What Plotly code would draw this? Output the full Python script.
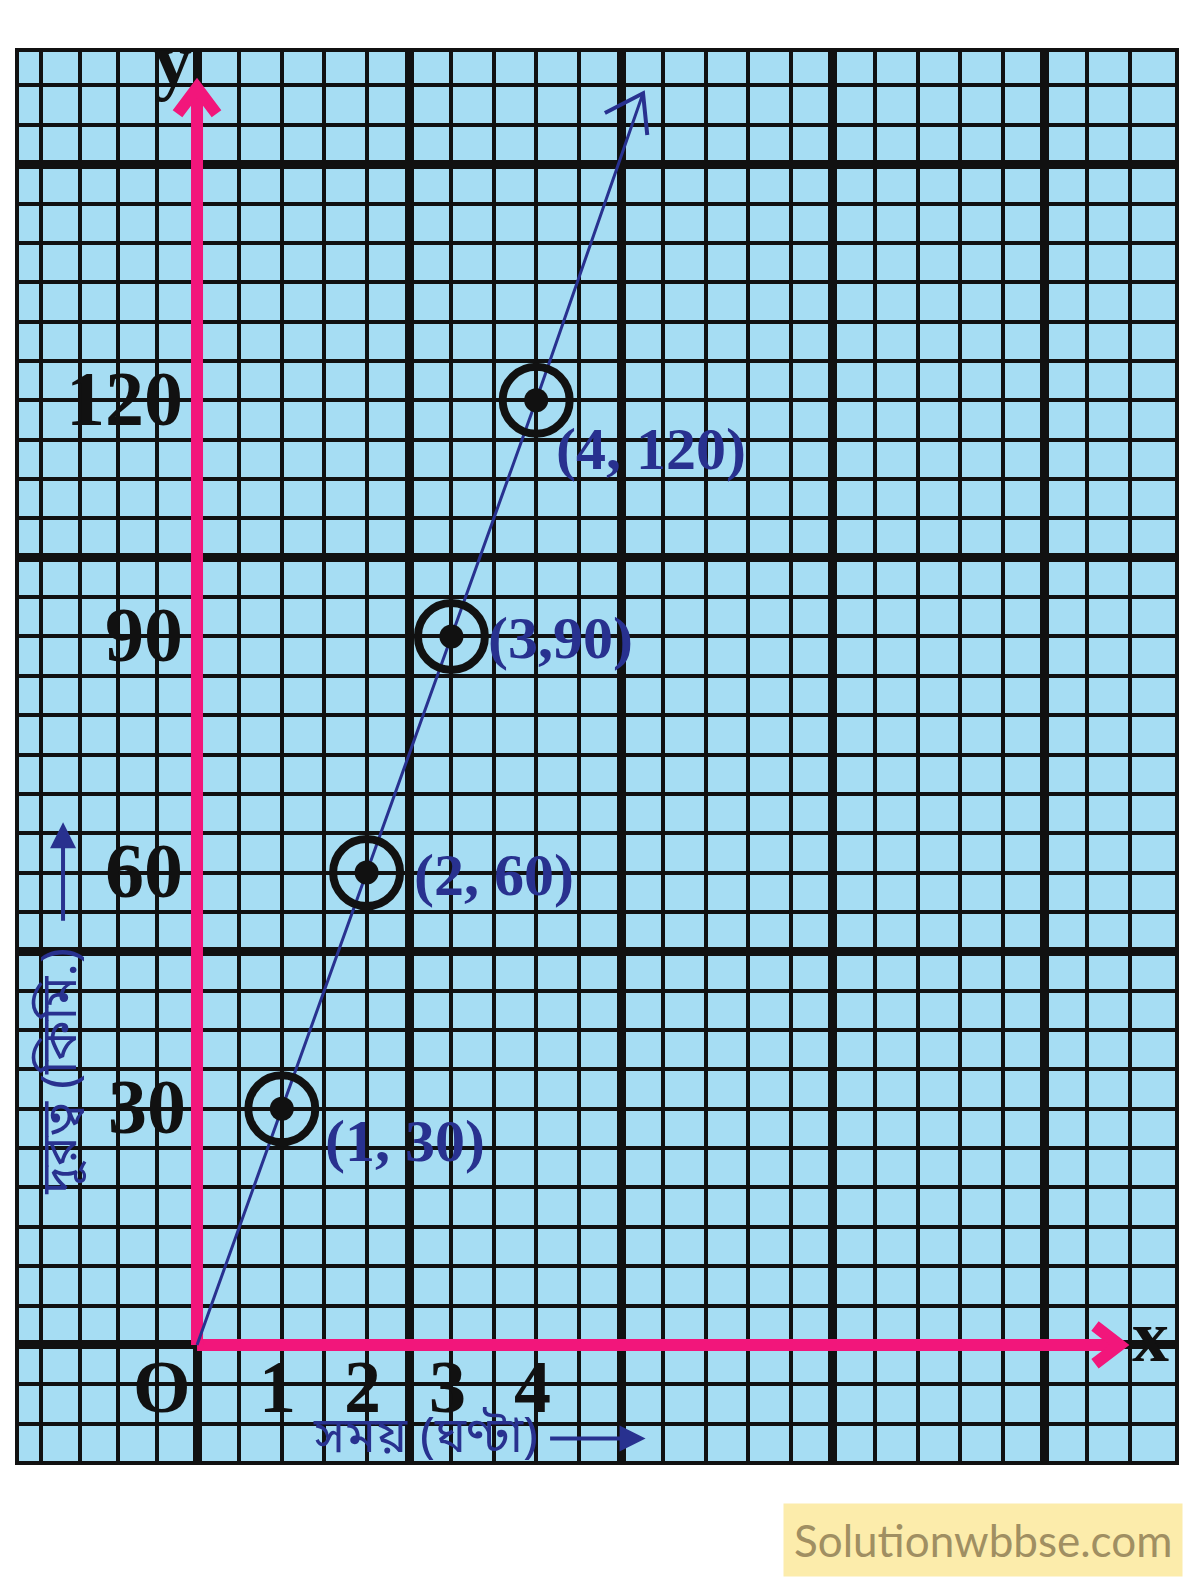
import plotly.graph_objects as go

# time (hours) against distance (km)
time_h = [0, 1, 2, 3, 4]
dist_km = [0, 30, 60, 90, 120]
point_labels = ['(1, 30)', '(2, 60)', '(3,90)', '(4, 120)']

# the ruled line runs on past (4, 120) and ends in an open arrow
line_end_x, line_end_y = 5.26, 159
head_x = [4.81, 5.26, 5.31]
head_y = [156.5, 159, 153.7]

x_tick_vals = [0, 1, 2, 3, 4]
x_tick_text = ['O', '1', '2', '3', '4']
y_tick_vals = [30, 60, 90, 120]
y_tick_text = ['30', '60', '90', '120']

x_title = 'সময় (ঘণ্টা)'
y_title = 'দূরত্ব (কিমি.)'

PINK = '#f2167b'
NAVY = '#28318f'
PAPER_BLUE = '#a6ddf3'
SERIF = 'Liberation Serif, Times New Roman, serif'
BENGALI = 'Noto Sans Bengali, Lohit Bengali, Noto Serif Bengali, Noto Sans, sans-serif'

# graph paper: thin line every small square, thick every big one
x_minor = [-1.84, -1.38, -0.93, -0.47] + [i * 0.5 for i in range(1, 23)]
y_minor = [i * 5 for i in range(-2, 33) if i != 0]
x_major = [0, 2.5, 5, 7.5, 10]
y_major = [0, 50, 100, 150]

# axis arrows (pink)
x_axis_end = 10.88
y_axis_end = 159.7

fig = go.Figure()

fig.add_trace(go.Scatter(x=[0, x_axis_end], y=[0, 0], mode='lines',
                         line=dict(color=PINK, width=12), hoverinfo='skip'))
fig.add_trace(go.Scatter(x=[0, 0], y=[0, y_axis_end], mode='lines',
                         line=dict(color=PINK, width=12), hoverinfo='skip'))
fig.add_trace(go.Scatter(x=[10.59, x_axis_end, 10.59], y=[2.4, 0, -2.4], mode='lines',
                         line=dict(color=PINK, width=12), hoverinfo='skip'))
fig.add_trace(go.Scatter(x=[-0.23, 0, 0.23], y=[156.4, y_axis_end, 156.4], mode='lines',
                         line=dict(color=PINK, width=12), hoverinfo='skip'))

fig.add_trace(go.Scatter(x=time_h + [line_end_x], y=dist_km + [line_end_y], mode='lines',
                         line=dict(color=NAVY, width=3)))
fig.add_trace(go.Scatter(x=head_x, y=head_y, mode='lines',
                         line=dict(color=NAVY, width=4)))

fig.add_trace(go.Scatter(x=time_h[1:], y=dist_km[1:], mode='markers',
                         marker=dict(symbol='circle-open', size=67, color='#111111',
                                     line=dict(width=8, color='#111111'))))
fig.add_trace(go.Scatter(x=time_h[1:], y=dist_km[1:], mode='markers',
                         marker=dict(symbol='circle', size=24, color='#111111')))

label_shift = [(41, -32), (45, -2), (35, -2), (18, -49)]
for x, y, txt, (dx, dy) in zip(time_h[1:], dist_km[1:], point_labels, label_shift):
    fig.add_annotation(x=x, y=y, text=txt, showarrow=False, xanchor='left', yanchor='middle',
                       xshift=dx, yshift=dy,
                       font=dict(family=SERIF, size=60, color=NAVY, weight='bold'))

for v, t in zip(x_tick_vals, x_tick_text):
    fig.add_annotation(x=v, y=0, text=t, showarrow=False, xanchor='center', yanchor='middle',
                       xshift=-35 if v == 0 else -4, yshift=-42,
                       font=dict(family=SERIF, size=74, color='#111111', weight='bold'))

for v, t in zip(y_tick_vals, y_tick_text):
    fig.add_annotation(x=0, y=v, text=t, showarrow=False, xanchor='right', yanchor='middle',
                       xshift=-9 if v == 30 else -12, yshift=2,
                       font=dict(family=SERIF, size=78, color='#111111', weight='bold'))

fig.add_annotation(x=0, y=163.2, text='y', showarrow=False, xanchor='center', yanchor='middle',
                   xshift=-24, font=dict(family=SERIF, size=76, color='#111111', weight='bold'))
fig.add_annotation(x=11.24, y=1.1, text='x', showarrow=False, xanchor='center', yanchor='middle',
                   font=dict(family=SERIF, size=74, color='#111111', weight='bold'))

# axis titles in Bengali with their arrows
fig.add_annotation(x=2.70, y=-11.9, text=x_title, showarrow=False, xanchor='center',
                   yanchor='middle', font=dict(family=BENGALI, size=50, color=NAVY))
fig.add_annotation(x=5.29, y=-11.9, ax=-97, ay=0, text='', showarrow=True, arrowhead=2,
                   arrowsize=1.3, arrowwidth=4, arrowcolor=NAVY, standoff=0)
fig.add_annotation(x=-1.58, y=34.7, text=y_title, showarrow=False, textangle=-90,
                   xanchor='center', yanchor='middle',
                   font=dict(family=BENGALI, size=50, color=NAVY))
fig.add_annotation(x=-1.58, y=66.4, ax=0, ay=100, text='', showarrow=True, arrowhead=2,
                   arrowsize=1.3, arrowwidth=4, arrowcolor=NAVY, standoff=0)

# watermark
fig.add_annotation(x=0.833, y=-0.0545, xref='paper', yref='paper', text='Solutionwbbse.com',
                   showarrow=False, xanchor='center', yanchor='middle',
                   bgcolor='#fcecab', borderpad=10,
                   font=dict(family='Lato, Open Sans, sans-serif', size=44, color='#a08f62'))

fig.add_shape(type='rect', xref='paper', yref='paper', x0=0, x1=1, y0=0, y1=1,
              line=dict(color='#111111', width=4), layer='above')

fig.update_xaxes(range=[-2.123, 11.557], tickmode='array', tickvals=x_major,
                 showgrid=True, gridcolor='#111111', gridwidth=9, showticklabels=False,
                 ticks='', zeroline=False, showline=False,
                 minor=dict(tickmode='array', tickvals=x_minor, showgrid=True,
                            gridcolor='#111111', gridwidth=4, ticks=''))
fig.update_yaxes(range=[-15.0, 164.5], tickmode='array', tickvals=y_major,
                 showgrid=True, gridcolor='#111111', gridwidth=9, showticklabels=False,
                 ticks='', zeroline=False, showline=False,
                 minor=dict(tickmode='array', tickvals=y_minor, showgrid=True,
                            gridcolor='#111111', gridwidth=4, ticks=''))

fig.update_layout(width=1200, height=1594, showlegend=False,
                  margin=dict(l=17, r=23, t=50, b=131),
                  plot_bgcolor=PAPER_BLUE, paper_bgcolor='white')

fig.write_html("out.html", config={'displayModeBar': False},
               post_script="document.body.style.margin='0';")
